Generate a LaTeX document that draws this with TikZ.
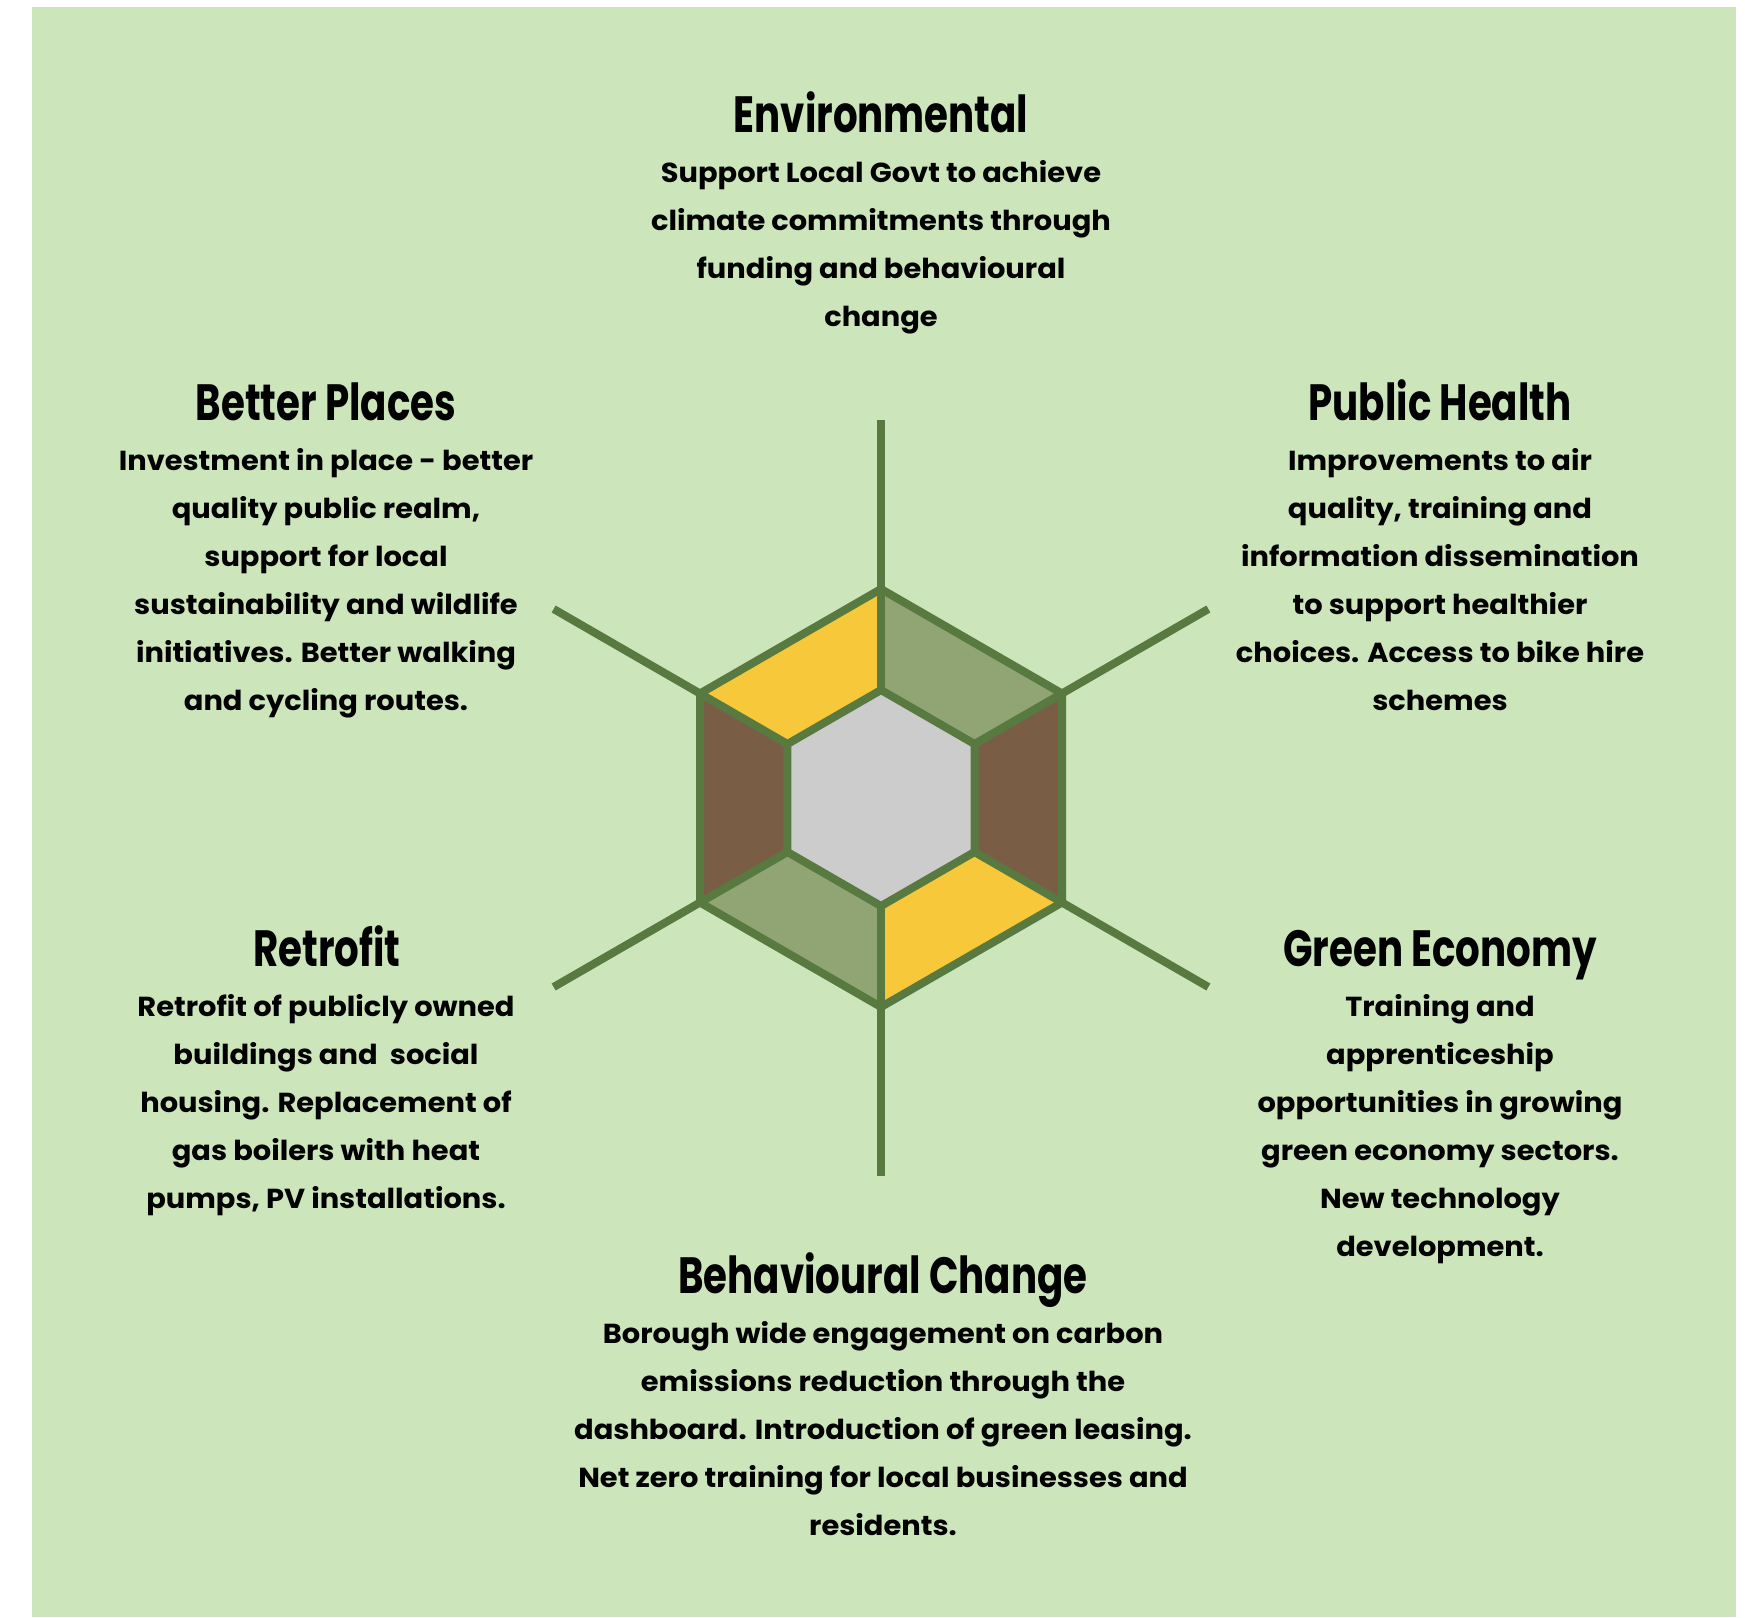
\documentclass[tikz,border=0pt]{standalone}
\usepackage{fontspec}
\setmainfont{Poppins}
\newfontfamily\headfont{Poppins}[FakeStretch=0.76]
\newfontfamily\blurbfont{Poppins}[FakeStretch=1.05]
\usetikzlibrary{calc}
\definecolor{bg}{HTML}{CCE5BB}
\definecolor{edge}{HTML}{587A40}
\definecolor{sunny}{HTML}{F6C83A}
\definecolor{olive}{HTML}{91A473}
\definecolor{earth}{HTML}{795E45}
\definecolor{core}{HTML}{CCCCCC}
\begin{document}
\begin{tikzpicture}[x=1pt,y=-1pt,
  heading/.style={font=\headfont\fontsize{51}{51}\selectfont\bfseries, anchor=base, inner sep=0pt},
  % multi-line nodes are anchored on the baseline of their last line
  blurb/.style={font=\blurbfont\fontsize{27.5}{48}\selectfont\bfseries, align=center, anchor=base, inner sep=0pt},
  rim/.style={draw=edge, line width=8pt, line join=miter},
  spoke/.style={draw=edge, line width=8pt, line cap=butt}]
\useasboundingbox (0,0) rectangle (1745,1617);
\fill[bg] (32,7) rectangle (1736,1617);

% hexagon centre, outer and inner corners, spoke ends
\coordinate (C) at (881,798);
\foreach \k/\a in {1/-90,2/-30,3/30,4/90,5/150,6/210}{
  \coordinate (o\k) at ($(C)+(\a:209)$);
  \coordinate (i\k) at ($(C)+(\a:108)$);
  \coordinate (s\k) at ($(C)+(\a:378)$);
}

% coloured bands of the ring
\fill[sunny] (i6) -- (o6) -- (o1) -- (i1) -- cycle;
\fill[olive] (i1) -- (o1) -- (o2) -- (i2) -- cycle;
\fill[earth] (i2) -- (o2) -- (o3) -- (i3) -- cycle;
\fill[sunny] (i3) -- (o3) -- (o4) -- (i4) -- cycle;
\fill[olive] (i4) -- (o4) -- (o5) -- (i5) -- cycle;
\fill[earth] (i5) -- (o5) -- (o6) -- (i6) -- cycle;
\fill[core] (i1) -- (i2) -- (i3) -- (i4) -- (i5) -- (i6) -- cycle;

% spokes from the inner corners outwards
\foreach \k in {1,...,6}{ \draw[spoke] (i\k) -- (s\k); }
\draw[rim] (o1) -- (o2) -- (o3) -- (o4) -- (o5) -- (o6) -- cycle;
\draw[rim] (i1) -- (i2) -- (i3) -- (i4) -- (i5) -- (i6) -- cycle;

% headings
\node[heading] (envT) at (881,132) {Environmental};
\node[heading] (placesT) at (326,420) {Better Places};
\node[heading] (healthT) at (1440,420) {Public Health};
\node[heading] (retroT) at (327,966) {Retrofit};
\node[heading] (econT) at (1440,966) {Green Economy};
\node[heading] (behavT) at (883,1293) {Behavioural Change};

% descriptions
\node[blurb] (envB) at (881,326) {Support Local Govt to achieve\\climate commitments through\\funding and behavioural\\change};
\node[blurb] (placesB) at (326,710) {Investment in place - better\\quality public realm,\\support for local\\sustainability and wildlife\\initiatives. Better walking\\and cycling routes.};
\node[blurb] (healthB) at (1440,710) {Improvements to air\\quality, training and\\information dissemination\\to support healthier\\choices. Access to bike hire\\schemes};
\node[blurb] (retroB) at (326,1208) {Retrofit of publicly owned\\buildings and\ \ social\\housing. Replacement of\\gas boilers with heat\\pumps, PV installations.};
\node[blurb] (econB) at (1440,1256) {Training and\\apprenticeship\\opportunities in growing\\green economy sectors.\\New technology\\development.};
\node[blurb] (behavB) at (883,1535) {Borough wide engagement on carbon\\emissions reduction through the\\dashboard. Introduction of green leasing.\\Net zero training for local businesses and\\residents.};
\end{tikzpicture}
\end{document}
